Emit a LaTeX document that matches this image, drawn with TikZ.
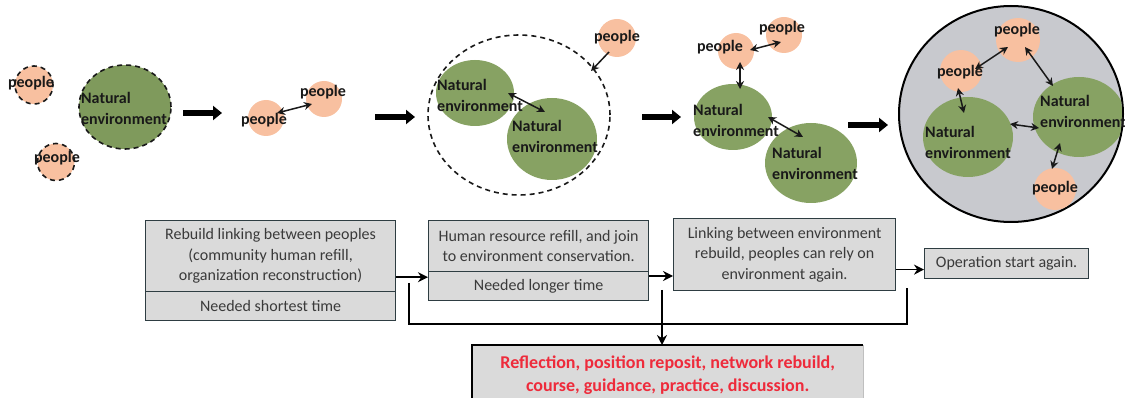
\documentclass[tikz,border=0pt]{standalone}
\usepackage{fontspec}
\setmainfont{Carlito}
\usetikzlibrary{shapes.geometric,arrows.meta}

\definecolor{peach}{HTML}{F8C0A0}
\definecolor{leaf}{HTML}{87A263}
\definecolor{leafdark}{HTML}{7F9A5C}
\definecolor{cellfill}{HTML}{DADADA}
\definecolor{cellline}{HTML}{2E3D42}
\definecolor{celltext}{HTML}{3A3A3A}
\definecolor{poolfill}{HTML}{C8C9CE}
\definecolor{alertred}{HTML}{EE2B3B}

\tikzset{
  ppl/.style={circle, fill=peach, inner sep=0pt, minimum size=#1},
  ppl/.default=36pt,
  dashring/.style={draw=black!90, line width=1.6pt, dash pattern=on 5pt off 4pt},
  env/.style={ellipse, fill=leaf, inner sep=0pt},
  lbl/.style={font=\bfseries\fontsize{16}{21}\selectfont, text=black!90, inner sep=0pt},
  envlbl/.style={lbl, align=left, anchor=west},
  link/.style={{Stealth[length=8pt,width=8pt]}-{Stealth[length=8pt,width=8pt]}, line width=1.5pt, black!90},
  onelink/.style={-{Stealth[length=8pt,width=8pt]}, line width=1.5pt, black!90},
  stagearrow/.style={-{Triangle[length=9pt,width=14pt]}, line width=5.5pt, black},
  cell/.style={draw=cellline, line width=1.2pt, fill=cellfill, text=celltext,
    font=\fontsize{16}{20.5}\selectfont, align=center, inner sep=0pt, anchor=north west},
  flow/.style={-{Stealth[length=10pt,width=10pt]}, line width=1.7pt, black},
  fbline/.style={line width=1.7pt, black},
}

\begin{document}
\begin{tikzpicture}[x=1pt,y=-1pt]
\useasboundingbox (0,0) rectangle (1125,398);

% ---------- stage 1: scattered people beside the environment ----------
\node[ppl=38pt, dashring] (s1p1) at (34,85) {};
\node[lbl] (s1t1) at (31,83) {people};
\node[ppl=37pt, dashring] (s1p2) at (56,162) {};
\node[lbl] (s1t2) at (57,158) {people};
\node[env, fill=leafdark, dashring, minimum width=92pt, minimum height=84pt] (s1e) at (125,107) {};
\node[envlbl] (s1et) at (81,108) {Natural\\environment};

\coordinate (g1a) at (183,113); \coordinate (g1b) at (222,113);
\draw[stagearrow] (g1a) -- (g1b);

% ---------- stage 2: people linked together ----------
\node[ppl] (s2p1) at (266,118) {};
\node[ppl] (s2p2) at (324,99) {};
\node[lbl] (s2t1) at (264,120) {people};
\node[lbl] (s2t2) at (323,92) {people};
\coordinate (s2a) at (277,113); \coordinate (s2b) at (312,104);
\draw[link] (s2a) -- (s2b);

\coordinate (g2a) at (375,117); \coordinate (g2b) at (415,117);
\draw[stagearrow] (g2a) -- (g2b);

% ---------- stage 3: environments joined, people drawn in ----------
\node[ellipse, dashring, minimum width=182pt, minimum height=160pt] (s3ring) at (519,115) {};
\node[env, minimum width=78pt, minimum height=66pt] (s3e1) at (475,93) {};
\node[env, minimum width=90pt, minimum height=82pt] (s3e2) at (552,139) {};
\node[envlbl] (s3t1) at (437,95) {Natural\\environment};
\node[envlbl] (s3t2) at (512,136) {Natural\\environment};
\node[ppl=38pt] (s3p) at (617,38) {};
\node[lbl] (s3pt) at (617,37) {people};
\coordinate (s3a) at (508,93); \coordinate (s3b) at (545,112);
\draw[link] (s3a) -- (s3b);
\coordinate (s3c) at (609,52); \coordinate (s3d) at (591,71);
\draw[onelink] (s3c) -- (s3d);

\coordinate (g3a) at (642,117); \coordinate (g3b) at (681,117);
\draw[stagearrow] (g3a) -- (g3b);

% ---------- stage 4: people rely on environments ----------
\node[ppl] (s4p1) at (736,51) {};
\node[ppl] (s4p2) at (784,35) {};
\node[lbl] (s4t1) at (720,47) {people};
\node[lbl] (s4t2) at (782,28) {people};
\node[env, minimum width=78pt, minimum height=66pt] (s4e1) at (733,117) {};
\node[env, minimum width=92pt, minimum height=80pt] (s4e2) at (811,163) {};
\node[envlbl] (s4et1) at (693,120) {Natural\\environment};
\node[envlbl] (s4et2) at (772,163) {Natural\\environment};
\coordinate (s4a) at (750,50); \coordinate (s4b) at (781,42);
\draw[link] (s4a) -- (s4b);
\coordinate (s4c) at (740,62); \coordinate (s4d) at (740,89);
\draw[link] (s4c) -- (s4d);
\coordinate (s4e) at (768,117); \coordinate (s4f) at (803,137);
\draw[link] (s4e) -- (s4f);

\coordinate (g4a) at (848,125); \coordinate (g4b) at (888,125);
\draw[stagearrow] (g4a) -- (g4b);

% ---------- stage 5: the whole network rebuilt ----------
\node[ellipse, fill=poolfill, draw=black, line width=2pt, minimum width=224pt, minimum height=216pt] (s5pool) at (1011,114) {};
\begin{scope}
  \clip (1011,114) ellipse [x radius=111pt, y radius=107pt];
  \node[env, minimum width=92pt, minimum height=80pt] (s5e2) at (1079,117) {};
\end{scope}
\node[env, minimum width=90pt, minimum height=80pt] (s5e1) at (968,137) {};
\node[ppl=44pt] (s5p1) at (1018,40) {};
\node[ppl=42pt] (s5p2) at (961,71) {};
\node[ppl=42pt] (s5p3) at (1055,189) {};
\node[lbl] (s5t1) at (1017,30) {people};
\node[lbl] (s5t2) at (960,72) {people};
\node[lbl] (s5t3) at (1055,188) {people};
\node[envlbl] (s5et1) at (925,142) {Natural\\environment};
\node[envlbl] (s5et2) at (1040,111) {Natural\\environment};
\coordinate (s5a) at (975,69);  \coordinate (s5b) at (1008,47);
\draw[link] (s5a) -- (s5b);
\coordinate (s5c) at (1025,47); \coordinate (s5d) at (1053,86);
\draw[link] (s5c) -- (s5d);
\coordinate (s5e) at (958,88);  \coordinate (s5f) at (964,113);
\draw[link] (s5e) -- (s5f);
\coordinate (s5g) at (1010,124); \coordinate (s5h) at (1039,128);
\draw[link] (s5g) -- (s5h);
\coordinate (s5i) at (1060,143); \coordinate (s5j) at (1052,169);
\draw[link] (s5i) -- (s5j);

% ---------- process boxes ----------
\node[cell, minimum width=250pt, minimum height=71pt] (b1u) at (145,220)
  {Rebuild linking between peoples\\(community human refill,\\organization reconstruction)};
\node[cell, minimum width=250pt, minimum height=29pt] (b1l) at (145,291) {Needed shortest time};

\node[cell, minimum width=220pt, minimum height=51pt] (b2u) at (428,220)
  {Human resource refill, and join\\to environment conservation.};
\node[cell, minimum width=220pt, minimum height=29pt] (b2l) at (428,271) {Needed longer time};

\node[cell, minimum width=222pt, minimum height=72pt] (b3) at (673,218)
  {Linking between environment\\rebuild, peoples can rely on\\environment again.};

\node[cell, minimum width=164pt, minimum height=30pt] (b4) at (924,248) {Operation start again.};

\node[fill=cellfill, minimum width=391pt, minimum height=60pt, anchor=north west, inner sep=0pt,
      text=alertred, font=\bfseries\fontsize{18}{23}\selectfont, align=center] (refl) at (472,345)
  {Reflection, position reposit, network rebuild,\\course, guidance, practice, discussion.};
\draw[line width=1.4pt, black] (refl.south west) -- (refl.north west) -- (refl.north east);
\draw[line width=1pt, black!25] (refl.north east) -- (refl.south east);

% ---------- flow between boxes ----------
\draw[flow] ([yshift=15pt]b1u.south east) -- ([yshift=15pt]b1u.south east -| b2l.west);
\draw[flow] ([yshift=-5pt]b2l.north east) -- ([yshift=-5pt]b2l.north east -| b3.west);
\draw[flow] ([yshift=-6pt]b4.west -| b3.east) -- ([yshift=-6pt]b4.west);

% ---------- feedback into reflection ----------
\coordinate (fl) at (409,283);
\coordinate (fr) at (907,288);
\coordinate (fm) at (662,290);
\coordinate (fy) at (0,324);
\draw[fbline] (fl) -- (fl |- fy) -- (fr |- fy) -- (fr);
\draw[flow] (fm) -- (fm |- refl.north);

\end{tikzpicture}
\end{document}
